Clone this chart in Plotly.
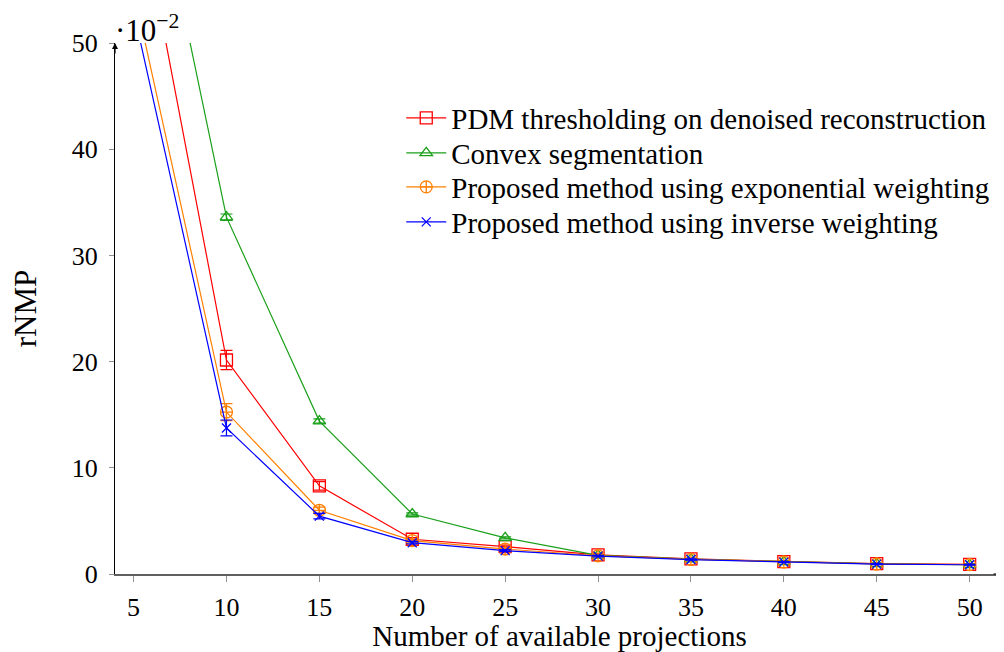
import plotly.graph_objects as go

projections = [5, 10, 15, 20, 25, 30, 35, 40, 45, 50]
pdm_vals = [66.0, 20.15, 8.3, 3.27, 2.57, 1.8, 1.42, 1.16, 0.97, 0.9]
pdm_err = [1.0, 0.9, 0.4, 0.15, 0.15, 0.1, 0.08, 0.07, 0.06, 0.05]
convex_vals = [75.5, 33.6, 14.4, 5.65, 3.4, 1.75, 1.4, 1.15, 0.95, 0.87]
convex_err = [0.5, 0.3, 0.2, 0.1, 0.1, 0.08, 0.06, 0.05, 0.05, 0.04]
exp_vals = [55.0, 15.25, 6.0, 3.15, 2.35, 1.72, 1.38, 1.13, 0.94, 0.88]
exp_err = [1.0, 0.8, 0.3, 0.15, 0.12, 0.08, 0.06, 0.05, 0.05, 0.04]
inv_vals = [53.0, 13.75, 5.45, 2.95, 2.2, 1.68, 1.36, 1.12, 0.93, 0.87]
inv_err = [1.0, 0.75, 0.25, 0.12, 0.1, 0.08, 0.06, 0.05, 0.05, 0.04]

series = [
    ("PDM thresholding on denoised reconstruction", pdm_vals, pdm_err, "#ff0000", "square-open", 12),
    ("Convex segmentation", convex_vals, convex_err, "#1aa01a", "triangle-up-open", 11),
    ("Proposed method using exponential weighting", exp_vals, exp_err, "#ff8000", "circle-cross-open", 12),
    ("Proposed method using inverse weighting", inv_vals, inv_err, "#0000ff", "x-thin-open", 9),
]

serif = "Liberation Serif"
legend_names = ["legend", "legend2", "legend3", "legend4"]
# page body has an 8px margin; figure coordinates are screen minus 8
W, H = 996, 644
plot_top, plot_bot = 35, 566
row_px = [110, 145, 179, 214]

fig = go.Figure()
for i, (name, vals, err, col, sym, sz) in enumerate(series):
    fig.add_trace(go.Scatter(
        x=projections, y=vals, name=name, mode="lines+markers",
        line=dict(color=col, width=1.2),
        marker=dict(symbol=sym, size=sz, color=col, line=dict(color=col, width=1.3)),
        error_y=dict(type="data", array=err, color=col, thickness=1.2, width=6, visible=True),
        cliponaxis=True, legend=legend_names[i],
    ))

legend_cfg = {}
for i, ln in enumerate(legend_names):
    legend_cfg[ln] = dict(
        x=0.322, y=(plot_bot - row_px[i]) / (plot_bot - plot_top),
        xanchor="left", yanchor="middle",
        font=dict(family=serif, size=29, color="black"),
        bgcolor="rgba(255,255,255,0)", borderwidth=0,
        itemwidth=40,
    )

fig.update_layout(
    width=W, height=H,
    margin=dict(l=107, r=0, t=plot_top, b=H - plot_bot),
    plot_bgcolor="white", paper_bgcolor="white",
    font=dict(family=serif, color="black"),
    showlegend=True,
    xaxis=dict(
        range=[4, 51.85], tickvals=[5, 10, 15, 20, 25, 30, 35, 40, 45, 50],
        showgrid=False, zeroline=False, automargin=False,
        showline=True, linecolor="#606060", linewidth=1.5,
        ticks="outside", ticklen=6, tickcolor="#909090", tickwidth=1,
        ticklabelstandoff=3,
        tickfont=dict(family=serif, size=26, color="black"),
        title=dict(text="Number of available projections", font=dict(family=serif, size=29, color="black"), standoff=4),
    ),
    yaxis=dict(
        range=[0, 50], tickvals=[0, 10, 20, 30, 40, 50],
        showgrid=False, zeroline=False, automargin=False,
        showline=True, linecolor="black", linewidth=1.2,
        ticks="outside", ticklen=5, tickcolor="#909090", tickwidth=1,
        ticklabelstandoff=6,
        tickfont=dict(family=serif, size=26, color="black"),
        title=dict(text="rNMP", font=dict(family=serif, size=31, color="black"), standoff=26),
    ),
    **legend_cfg,
)

fig.add_annotation(
    x=0, y=1, xref="paper", yref="paper", xanchor="left", yanchor="bottom",
    text="·10<sup>−2</sup>", showarrow=False, yshift=-7, xshift=-2,
    font=dict(family=serif, size=31, color="black"),
)
# axis arrow heads
fig.add_annotation(x=0, y=1.0, xref="paper", yref="paper", ax=0, ay=12,
                   showarrow=True, arrowhead=2, arrowsize=1, arrowwidth=1.2, arrowcolor="black", text="")
fig.add_annotation(x=1.0, y=0, xref="paper", yref="paper", ax=-12, ay=0,
                   showarrow=True, arrowhead=2, arrowsize=1, arrowwidth=1.2, arrowcolor="black", text="")

fig.write_html("out.html")
